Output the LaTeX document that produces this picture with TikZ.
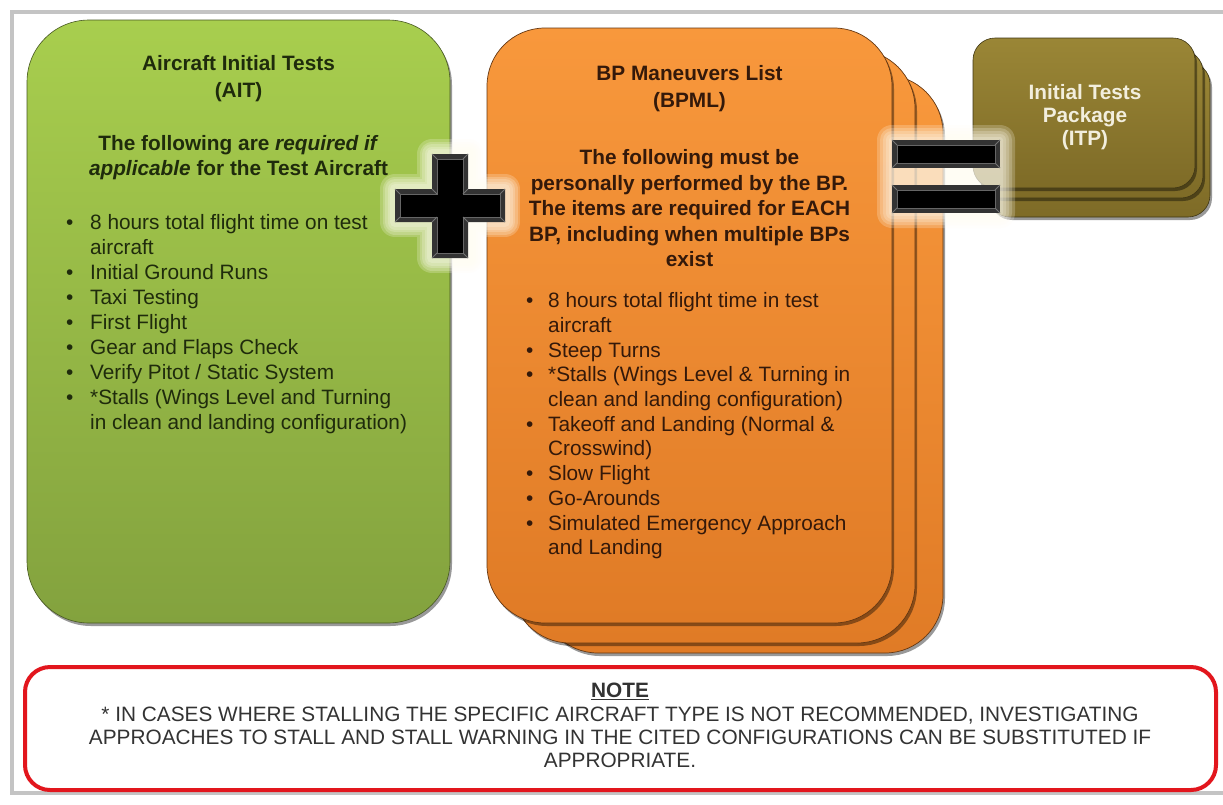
\documentclass[tikz,border=0pt]{standalone}
\usepackage{fontspec}
\setmainfont{Liberation Sans}
\usetikzlibrary{shadows}
\definecolor{gtop}{HTML}{A8CE4E}
\definecolor{gbot}{HTML}{83A23E}
\definecolor{otop}{HTML}{F8983C}
\definecolor{obot}{HTML}{E07B26}
\definecolor{itop}{HTML}{9A8636}
\definecolor{ibot}{HTML}{7E6B27}
\definecolor{framegray}{HTML}{C4C4C4}
\definecolor{notered}{HTML}{E2161D}
\definecolor{gtext}{HTML}{1F2B0C}
\definecolor{otext}{HTML}{34190A}
\definecolor{itext}{HTML}{F2EEDD}
\definecolor{ntext}{HTML}{333333}
\definecolor{glow}{HTML}{FFFDF2}
\begin{document}
\begin{tikzpicture}[x=1pt,y=-1pt,
  boxshadow/.style={drop shadow={shadow xshift=2pt,shadow yshift=-3pt,opacity=0.4,fill=black}},
  greenbox/.style={top color=gtop,bottom color=gbot,draw=gbot!55!black,line width=0.6pt,rounded corners=62pt,boxshadow},
  orangebox/.style={top color=otop,bottom color=obot,draw=obot!45!black,line width=0.7pt,rounded corners=58pt,boxshadow},
  itpbox/.style={top color=itop,bottom color=ibot,draw=ibot!50!black,line width=0.6pt,rounded corners=22pt,boxshadow},
  txt/.style={inner sep=0pt,anchor=north,align=center},
  halo/.style={draw=glow,line join=round,opacity=0.22},
  signface/.style={fill=black!80},
  signinner/.style={fill=black,draw=black!60,line width=0.8pt},
  bevel/.style={draw=black!55,line width=0.8pt},
]
\useasboundingbox (0,0) rectangle (1223,804);
\fill[white] (0,0) rectangle (1223,804);
% outer frame
\draw[framegray,line width=4pt] (1223,12) -- (12,12) -- (12,793) -- (1223,793);

% green box
\path[greenbox] (27,20) rectangle (450,623);
\node[txt,text=gtext,font=\fontsize{20.8}{27}\selectfont\bfseries] (aittitle) at (238.5,51.6)
  {\begin{tabular}{@{}c@{}}Aircraft Initial Tests\\(AIT)\end{tabular}};
\node[txt,text=gtext,font=\fontsize{20.8}{24.5}\selectfont\bfseries] (aitsub) at (238.5,133.4)
  {\begin{tabular}{@{}c@{}}The following are \textit{required if}\\\textit{applicable} for the Test Aircraft\end{tabular}};
\node[txt,anchor=north west,align=left,text=gtext,font=\fontsize{20.8}{25}\selectfont] (aitlist) at (66,212)
  {\begin{tabular}{@{}l@{\hspace{16.7pt}}l@{}}
  • & 8 hours total flight time on test\\
    & aircraft\\
  • & Initial Ground Runs\\
  • & Taxi Testing\\
  • & First Flight\\
  • & Gear and Flaps Check\\
  • & Verify Pitot / Static System\\
  • & {*}Stalls (Wings Level and Turning\\
    & in clean and landing configuration)
  \end{tabular}};

% orange stack
\path[orangebox] (540,75) rectangle (943,653);
\path[orangebox] (512,50) rectangle (915,643);
\path[orangebox] (487,28) rectangle (892,623);
\node[txt,text=otext,font=\fontsize{20.8}{27}\selectfont\bfseries] (bpmltitle) at (689.5,61.6)
  {\begin{tabular}{@{}c@{}}BP Maneuvers List\\(BPML)\end{tabular}};
\node[txt,text=otext,font=\fontsize{20.8}{25.5}\selectfont\bfseries] (bpmlsub) at (689.5,146.7)
  {\begin{tabular}{@{}c@{}}The following must be\\personally performed by the BP.\\The items are required for EACH\\BP, including when multiple BPs\\exist\end{tabular}};
\node[txt,anchor=north west,align=left,text=otext,font=\fontsize{20.8}{24.7}\selectfont] (bpmllist) at (526,290.2)
  {\begin{tabular}{@{}l@{\hspace{14.7pt}}l@{}}
  • & 8 hours total flight time in test\\
    & aircraft\\
  • & Steep Turns\\
  • & {*}Stalls (Wings Level \& Turning in\\
    & clean and landing configuration)\\
  • & Takeoff and Landing (Normal \&\\
    & Crosswind)\\
  • & Slow Flight\\
  • & Go-Arounds\\
  • & Simulated Emergency Approach\\
    & and Landing
  \end{tabular}};

% ITP stack
\path[itpbox] (988,62) rectangle (1210,217);
\path[itpbox] (980,50) rectangle (1203,198);
\path[itpbox] (973,38) rectangle (1195,188);
\node[txt,text=itext,font=\fontsize{20.8}{23}\selectfont\bfseries] (itp) at (1085,83.4)
  {\begin{tabular}{@{}c@{}}Initial Tests\\Package\\(ITP)\end{tabular}};

% plus sign
\def\plusouter{(432,154) -- (468,154) -- (468,189) -- (505,189) -- (505,222) -- (468,222) -- (468,258) -- (432,258) -- (432,222) -- (395,222) -- (395,189) -- (432,189) -- cycle}
\foreach \w in {30,25,20,15,10}{
  \draw[halo,line width=\w pt] \plusouter;
}
\fill[signface] \plusouter;
\path[signinner] (437,159) -- (463,159) -- (463,194) -- (500,194) -- (500,217) -- (463,217) -- (463,253) -- (437,253) -- (437,217) -- (400,217) -- (400,194) -- (437,194) -- cycle;
\draw[bevel] (432,154) -- (437,159) (468,154) -- (463,159) (468,189) -- (463,194) (505,189) -- (500,194)
  (505,222) -- (500,217) (468,222) -- (463,217) (468,258) -- (463,253) (432,258) -- (437,253)
  (432,222) -- (437,217) (395,222) -- (400,217) (395,189) -- (400,194) (432,189) -- (437,194);

% equals sign
\foreach \d in {15,12,9,6,3}{
  \fill[glow,opacity=0.22,rounded corners=\d pt] (892-\d,140-\d) rectangle (1000+\d,213+\d);
}
\foreach \ya/\yb in {140/168,185/213}{
  \fill[signface] (892,\ya) rectangle (1000,\yb);
  \path[signinner] (897,\ya+5) rectangle (995,\yb-5);
  \draw[bevel] (892,\ya) -- (897,\ya+5) (1000,\ya) -- (995,\ya+5) (892,\yb) -- (897,\yb-5) (1000,\yb) -- (995,\yb-5);
}

% note
\draw[notered,line width=4pt,rounded corners=25pt] (25,667) rectangle (1216,790);
\node[txt,text=ntext,font=\fontsize{20.8}{23.3}\selectfont] (note) at (620,681.2)
  {\begin{tabular}{@{}c@{}}\textbf{\underline{NOTE}}\\
  {*} IN CASES WHERE STALLING THE SPECIFIC AIRCRAFT TYPE IS NOT RECOMMENDED, INVESTIGATING\\
  APPROACHES TO STALL AND STALL WARNING IN THE CITED CONFIGURATIONS CAN BE SUBSTITUTED IF\\
  APPROPRIATE.\end{tabular}};
\end{tikzpicture}
\end{document}
